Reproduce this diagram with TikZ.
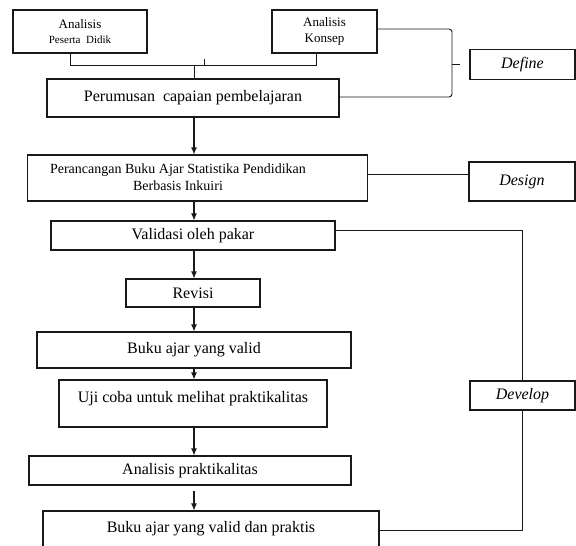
\documentclass[tikz,border=0pt]{standalone}
\usepackage{fontspec}
\setmainfont{Liberation Serif}
\usetikzlibrary{arrows.meta}
\tikzset{
  x=1pt, y=-1pt,
  ln/.style={draw=black!90, line width=0.9pt},
  box/.style={draw=black!90, line width=1.1pt, inner sep=0pt, align=center, font=\fontsize{16}{18}\selectfont},
  lbl/.style={inner sep=0pt, align=center},
  arr/.style={draw=black!90, line width=1.1pt, -{Latex[length=7pt,width=6pt]}},
}
\begin{document}
\begin{tikzpicture}
\useasboundingbox (0,0) rectangle (576,546);
\clip (0,0) rectangle (576,546);
\fill[white] (0,0) rectangle (576,546);

% boxes
\node[box, minimum width=134pt, minimum height=43pt, font=\fontsize{13}{15.5}\selectfont] (apd) at (80,31.5)
  {Analisis\\[-1pt]{\fontsize{11}{13}\selectfont Peserta\ \ Didik}};
\node[box, minimum width=105pt, minimum height=43pt, font=\fontsize{13}{15.5}\selectfont] (ak) at (324.5,31.5)
  {Analisis\\Konsep};
\node[box, minimum width=292pt, minimum height=38pt] (per) at (193,98)
  {Perumusan\ \ capaian pembelajaran};
\node[box, minimum width=105pt, minimum height=30pt, font=\fontsize{16}{18}\itshape] (def) at (522.5,64.5) {Define};

\node[box, minimum width=339.5pt, minimum height=46pt] (ran) at (197.5,178) {};
\node[lbl, font=\fontsize{14}{17}\selectfont] (rant) at (178,177.5)
  {Perancangan Buku Ajar Statistika Pendidikan\\Berbasis Inkuiri};
\node[box, minimum width=106pt, minimum height=39pt, font=\fontsize{16}{18}\itshape] (des) at (522,181.5) {Design};

\node[box, minimum width=284pt, minimum height=29pt] (val) at (193,235.5) {Validasi oleh pakar};
\node[box, minimum width=134pt, minimum height=28pt] (rev) at (193,293) {Revisi};
\node[box, minimum width=314pt, minimum height=36pt] (bv) at (194,350) {Buku ajar yang valid};
\node[box, minimum width=268pt, minimum height=47pt] (uji) at (193,403.5)
  {Uji coba untuk melihat praktikalitas\\[-4pt]\mbox{}};
\node[box, minimum width=322pt, minimum height=29pt] (ap) at (190,470.5) {Analisis praktikalitas};
\node[box, minimum width=336pt, minimum height=46pt] (fin) at (211,534)
  {Buku ajar yang valid dan praktis\\[-4pt]\mbox{}};
\node[box, minimum width=105pt, minimum height=29pt, font=\fontsize{16}{18}\itshape] (dev) at (522.5,395.5) {Develop};

% coordinates
\coordinate (col) at (194,0);
\coordinate (j1) at (70.5,65);
\coordinate (j2) at (316,65);
\coordinate (j0) at (194,65);
\coordinate (tk) at (204,59);
\coordinate (bt) at (452,29);
\coordinate (bb) at (452,97);
\coordinate (bm) at (452,64);
\coordinate (bm2) at (460,64);
\coordinate (dc) at (420,174);
\coordinate (v1) at (522.5,230.7);
\coordinate (v2) at (522.5,530);

% define group
\draw[ln] (apd.south -| j1) -- (j1) -- (j2) -- (ak.south -| j2);
\draw[ln] (tk) -- (tk |- j0);
\draw[ln] (j0) -- (per.north -| j0);
\draw[ln, rounded corners=3pt] (ak.east |- bt) -- (bt) -- (bb) -- (per.east |- bb);
\draw[ln] (bm) -- (bm2);

% main flow
\draw[arr] (per.south -| col) -- (ran.north -| col);
\draw[ln] (ran.east |- dc) -- (des.west |- dc);
\draw[arr] (ran.south -| col) -- (val.north -| col);
\draw[arr] (val.south -| col) -- (rev.north -| col);
\draw[arr] (rev.south -| col) -- (bv.north -| col);
\draw[arr] (bv.south -| col) -- (uji.north -| col);
\draw[arr] (uji.south -| col) -- (ap.north -| col);
\draw[arr, shorten <=5pt] (ap.south -| col) -- (fin.north -| col);

% develop group
\draw[ln] (val.east |- v1) -- (v1) -- (dev.north);
\draw[ln] (dev.south) -- (v2) -- (fin.east |- v2);
\end{tikzpicture}
\end{document}
